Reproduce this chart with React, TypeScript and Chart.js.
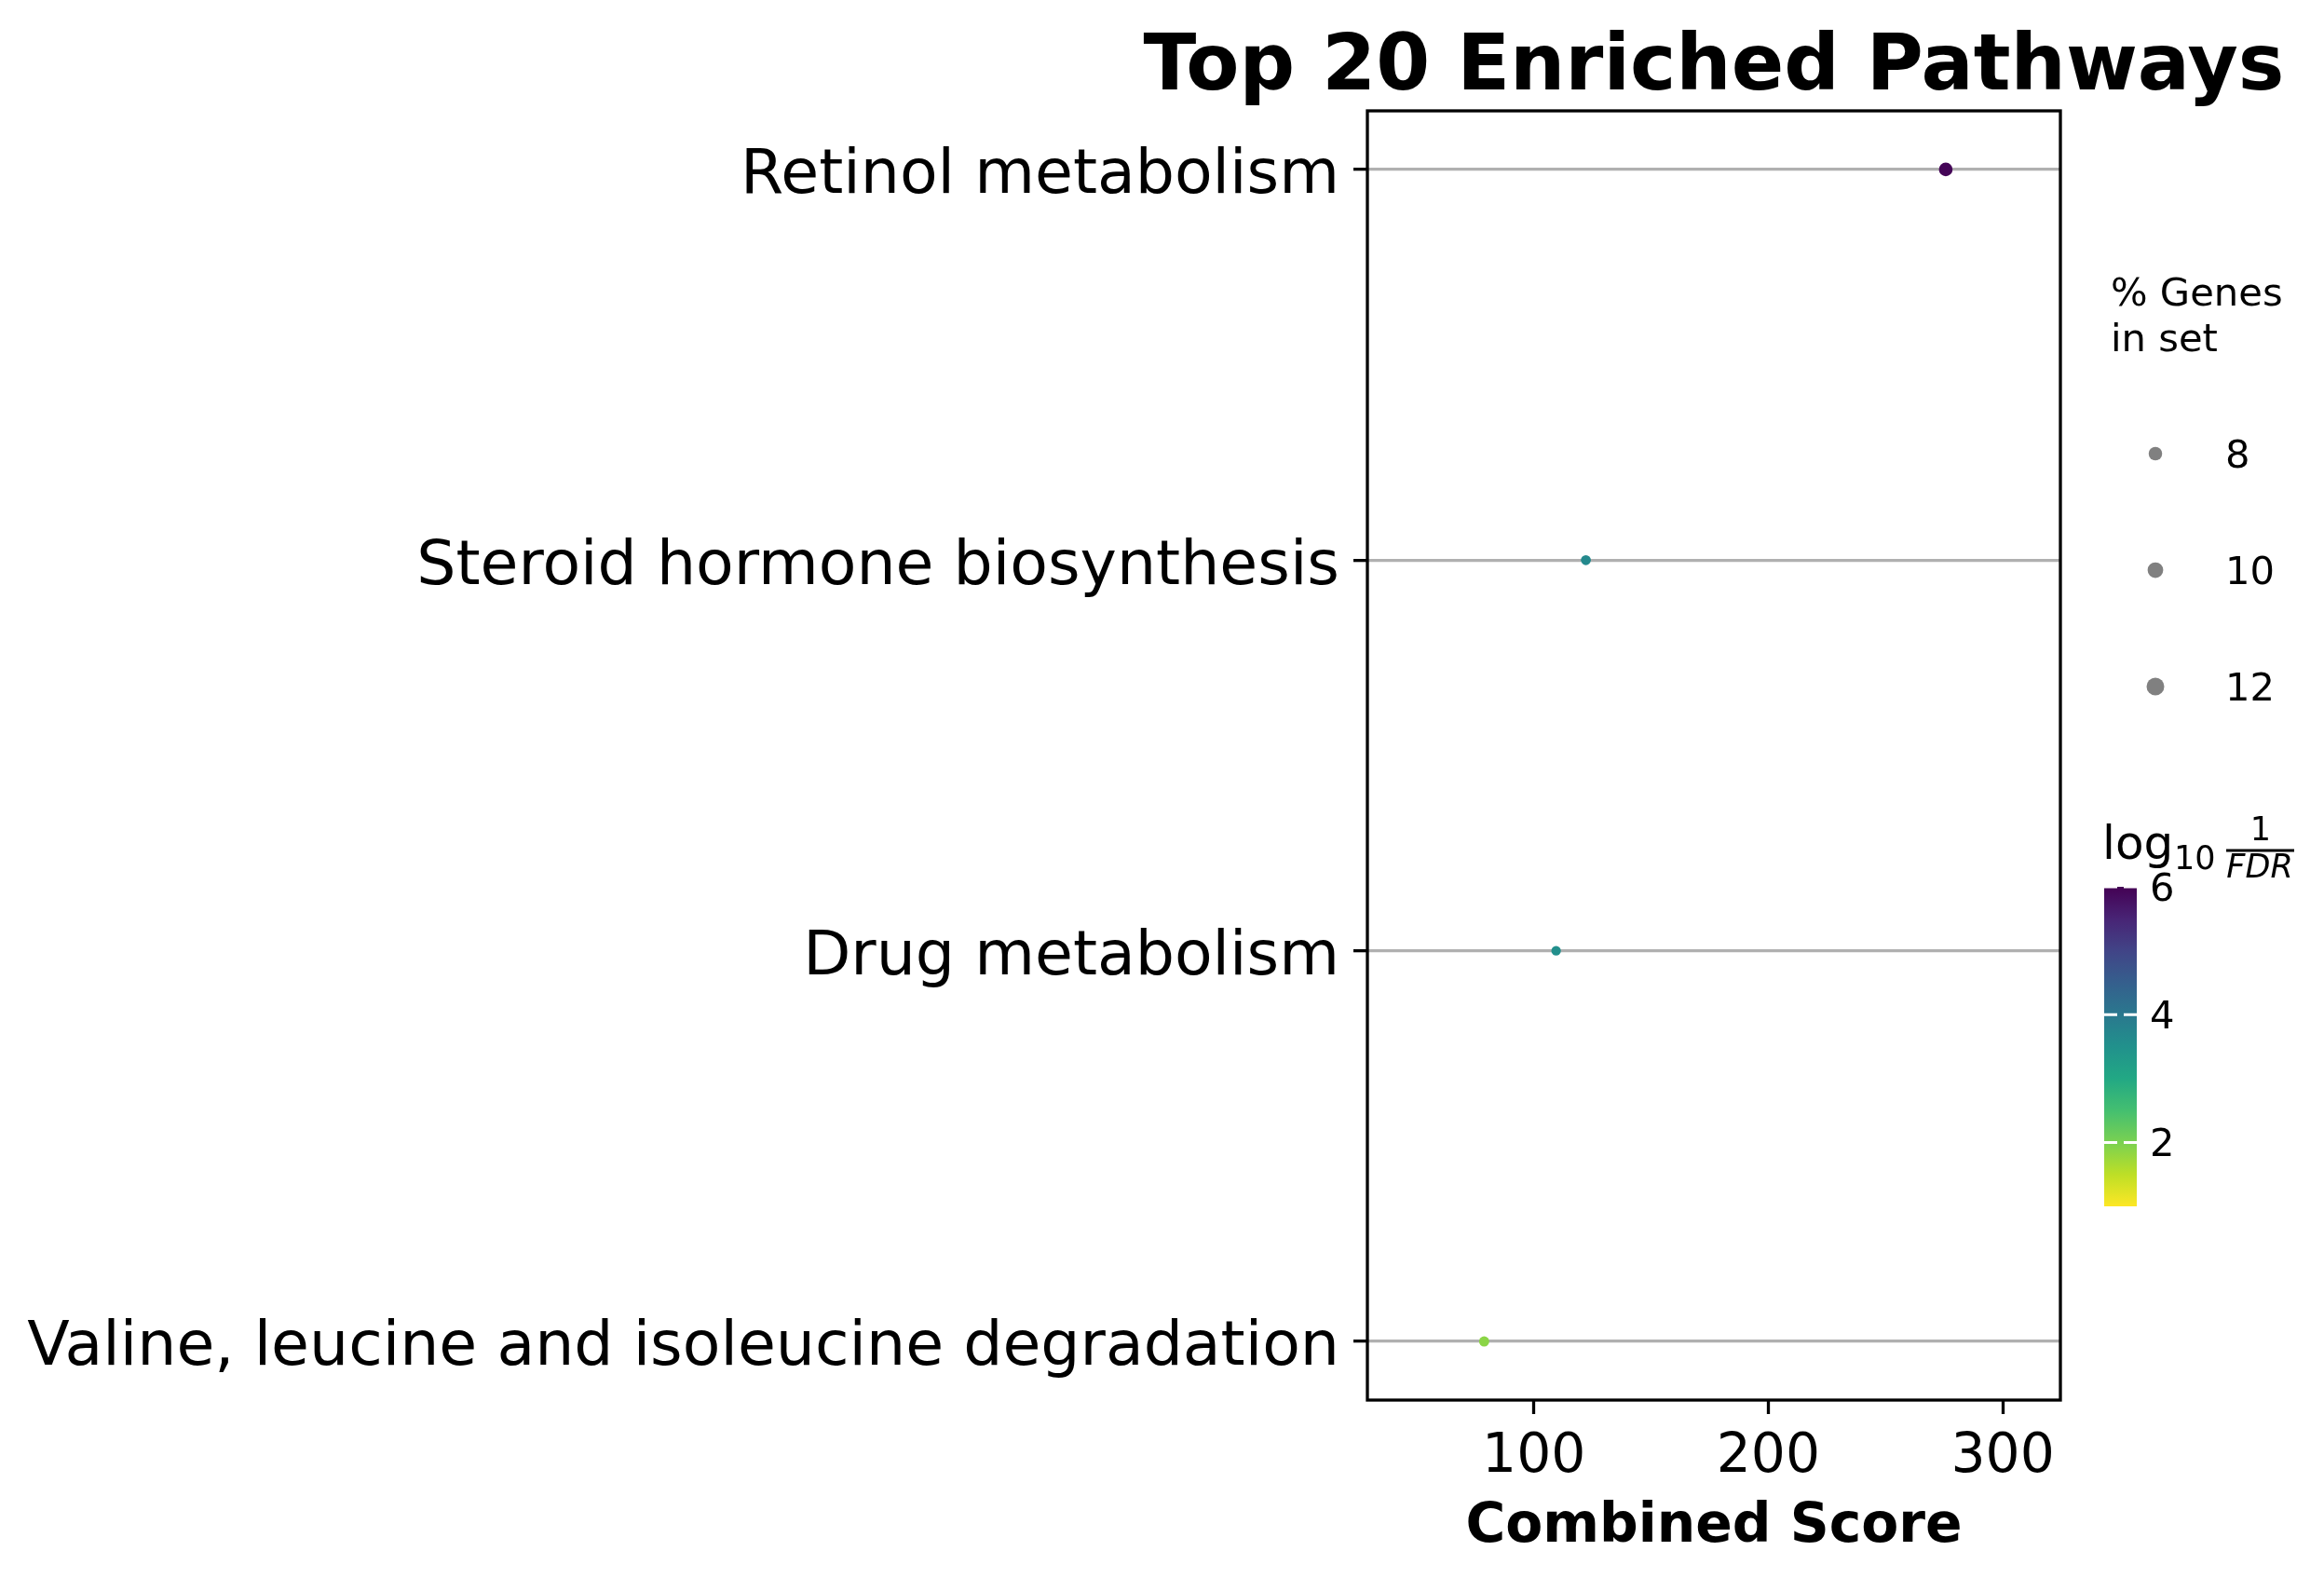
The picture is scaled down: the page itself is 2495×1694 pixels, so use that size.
import React, { useEffect, useRef } from "react";
import { Chart, registerables } from "chart.js";

Chart.register(...registerables);

// ---------------- data ----------------
const pathways = [
  "Retinol metabolism",
  "Steroid hormone biosynthesis",
  "Drug metabolism",
  "Valine, leucine and isoleucine degradation",
];
const combinedScore = [275.7, 122.2, 109.5, 78.8];
const log10InvFdr = [5.95, 3.65, 3.55, 1.87];
const pctGenes = [11.7, 8.2, 7.8, 8.4];
const xTickValues = [100, 200, 300];
const sizeLegendValues = [8, 10, 12];
const colorbarTicks = [2, 4, 6];

const TITLE = "Top 20 Enriched Pathways";
const X_LABEL = "Combined Score";
const SIZE_LEGEND_TITLE = ["% Genes", "in set"];

// ---------------- style / layout ----------------
const W = 2495;
const H = 1694;
const FONT = '"DejaVu Sans"';
const X_MIN = 29;
const X_MAX = 324.6;
const CB_MIN = 1.0;
const CB_MAX = 6.0;
const AREA = { left: 1468, right: 2212, top: 119, bottom: 1503 };
const CB = { left: 2259, right: 2294, top: 952, bottom: 1295 };
const LEG = { dotX: 2314, firstY: 487, step: 125, labelX: 2389, titleX: 2266, titleY: 328, lineH: 49 };
const LW = 3.3;

const VIRIDIS = [
  "#440154", "#482475", "#414487", "#355f8d", "#2a788e", "#21918c",
  "#22a884", "#44bf70", "#7ad151", "#bddf26", "#fde725",
];

function hexToRgb(h: string) {
  const n = parseInt(h.slice(1), 16);
  return [(n >> 16) & 255, (n >> 8) & 255, n & 255];
}
function viridis(t: number) {
  const c = Math.max(0, Math.min(1, t));
  const pos = c * (VIRIDIS.length - 1);
  const i = Math.min(VIRIDIS.length - 2, Math.floor(pos));
  const f = pos - i;
  const a = hexToRgb(VIRIDIS[i]);
  const b = hexToRgb(VIRIDIS[i + 1]);
  const m = a.map((v, k) => Math.round(v + (b[k] - v) * f));
  return `rgb(${m[0]},${m[1]},${m[2]})`;
}
function colorFor(v: number) {
  return viridis(1 - (v - CB_MIN) / (CB_MAX - CB_MIN));
}
function radiusFor(p: number) {
  return 0.75 + 0.5625 * p;
}

const overlayPlugin = {
  id: "overlay",
  afterDraw(chart: any) {
    const ctx: CanvasRenderingContext2D = chart.ctx;
    const a = chart.chartArea;
    ctx.save();
    // frame
    ctx.strokeStyle = "#000";
    ctx.lineWidth = LW;
    ctx.strokeRect(a.left, a.top, a.right - a.left, a.bottom - a.top);

    ctx.fillStyle = "#000";
    ctx.textBaseline = "alphabetic";
    // title
    ctx.textAlign = "center";
    ctx.font = `bold 83.3px ${FONT}`;
    ctx.fillText(TITLE, (a.left + a.right) / 2, 96);
    // x axis label
    ctx.font = `bold 58.3px ${FONT}`;
    ctx.fillText(X_LABEL, (a.left + a.right) / 2, 1655);

    // size legend
    ctx.textAlign = "left";
    ctx.font = `41.7px ${FONT}`;
    SIZE_LEGEND_TITLE.forEach((t, i) => ctx.fillText(t, LEG.titleX, LEG.titleY + i * LEG.lineH));
    sizeLegendValues.forEach((v, i) => {
      const y = LEG.firstY + i * LEG.step;
      ctx.beginPath();
      ctx.fillStyle = "#808080";
      ctx.arc(LEG.dotX, y, radiusFor(v) + 2, 0, Math.PI * 2);
      ctx.fill();
      ctx.fillStyle = "#000";
      ctx.fillText(String(v), LEG.labelX, y + 15);
    });

    // colorbar
    const g = ctx.createLinearGradient(0, CB.top, 0, CB.bottom);
    VIRIDIS.forEach((c, i) => g.addColorStop(i / (VIRIDIS.length - 1), c));
    ctx.fillStyle = g;
    ctx.fillRect(CB.left, CB.top, CB.right - CB.left, CB.bottom - CB.top);
    const cbY = (v: number) => CB.top + ((CB_MAX - v) / (CB_MAX - CB_MIN)) * (CB.bottom - CB.top);
    ctx.strokeStyle = "#fff";
    ctx.lineWidth = 3;
    ctx.font = `41.7px ${FONT}`;
    colorbarTicks.forEach((v) => {
      const y = cbY(v);
      ctx.beginPath();
      ctx.moveTo(CB.left, y);
      ctx.lineTo(CB.left + 14, y);
      ctx.moveTo(CB.right - 14, y);
      ctx.lineTo(CB.right, y);
      ctx.stroke();
      ctx.fillStyle = "#000";
      ctx.fillText(String(v), 2308, y + 15);
    });

    // colorbar title: log10 (1/FDR)
    ctx.fillStyle = "#000";
    ctx.textAlign = "left";
    ctx.font = `50px ${FONT}`;
    ctx.fillText("log", 2257, 922);
    ctx.font = `35px ${FONT}`;
    ctx.fillText("10", 2334, 933);
    ctx.textAlign = "center";
    ctx.fillText("1", 2427, 902);
    ctx.font = `italic 35px ${FONT}`;
    ctx.fillText("FDR", 2426, 942);
    ctx.fillRect(2390, 911.5, 73, 3);
    ctx.restore();
  },
};

export default function App() {
  const ref = useRef<HTMLCanvasElement>(null);
  useEffect(() => {
    if (!ref.current) return;
    const chart = new Chart(ref.current, {
      type: "scatter",
      data: {
        datasets: [
          {
            data: pathways.map((_, i) => ({ x: combinedScore[i], y: i })),
            pointRadius: pctGenes.map(radiusFor),
            pointHoverRadius: pctGenes.map(radiusFor),
            backgroundColor: log10InvFdr.map(colorFor),
            borderWidth: 0,
          },
        ],
      },
      options: {
        animation: false,
        responsive: false,
        maintainAspectRatio: false,
        devicePixelRatio: 1,
        events: [],
        layout: { padding: { left: 0, right: W - AREA.right, top: AREA.top, bottom: 0 } },
        plugins: { legend: { display: false }, tooltip: { enabled: false }, title: { display: false } },
        scales: {
          x: {
            type: "linear",
            min: X_MIN,
            max: X_MAX,
            afterBuildTicks: (s: any) => {
              s.ticks = xTickValues.map((v) => ({ value: v }));
            },
            afterFit: (s: any) => {
              s.height = H - AREA.bottom;
            },
            ticks: {
              font: { family: "DejaVu Sans", size: 58.3 },
              color: "#000",
              padding: 12,
              maxRotation: 0,
              autoSkip: false,
            },
            grid: {
              drawOnChartArea: false,
              drawTicks: true,
              color: "rgba(0,0,0,0)",
              tickColor: "#000",
              tickWidth: LW,
              tickLength: 15,
            },
            border: { display: false },
          },
          y: {
            type: "linear",
            min: -0.15,
            max: 3.15,
            reverse: true,
            afterBuildTicks: (s: any) => {
              s.ticks = pathways.map((_, i) => ({ value: i }));
            },
            afterFit: (s: any) => {
              s.width = AREA.left;
            },
            ticks: {
              font: { family: "DejaVu Sans", size: 66.5 },
              color: "#000",
              padding: 15,
              labelOffset: 8,
              autoSkip: false,
              callback: (v: any) => pathways[v as number] ?? "",
            },
            grid: {
              drawOnChartArea: true,
              color: "#b0b0b0",
              lineWidth: LW,
              tickColor: "#000",
              tickWidth: LW,
              tickLength: 15,
            },
            border: { display: false },
          },
        },
      },
      plugins: [overlayPlugin],
    } as any);
    return () => chart.destroy();
  }, []);
  return (
    <div style={{ position: "absolute", left: 0, top: 0, width: W, height: H, background: "#fff" }}>
      <canvas ref={ref} width={W} height={H} style={{ width: W, height: H, display: "block" }} />
    </div>
  );
}
